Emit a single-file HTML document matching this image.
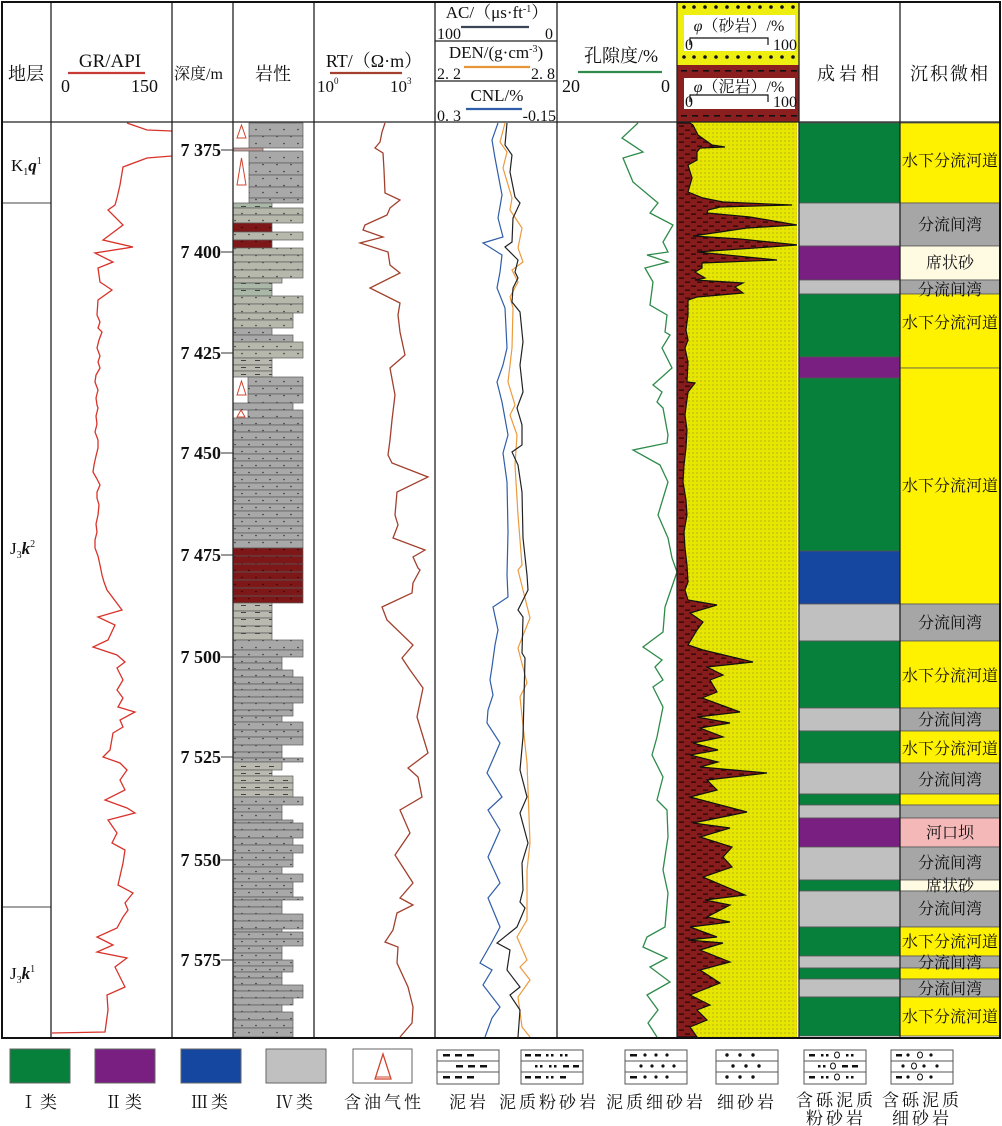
<!DOCTYPE html>
<html><head><meta charset="utf-8"><style>
html,body{margin:0;padding:0;background:#fff;}
svg{display:block;}
text{font-family:"Liberation Serif","Noto Serif CJK SC",serif;fill:#111;}
</style></head><body>
<svg width="1002" height="1126" viewBox="0 0 1002 1126" xmlns="http://www.w3.org/2000/svg">
<defs>
<pattern id="pg" width="14" height="14" patternUnits="userSpaceOnUse"><rect width="14" height="14" fill="#a8a8a8"/><circle cx="4" cy="3.5" r="0.8" fill="#333"/><circle cx="11" cy="10.5" r="0.8" fill="#333"/></pattern>
<pattern id="pl" width="14" height="14" patternUnits="userSpaceOnUse"><rect width="14" height="14" fill="#b6b8ab"/><circle cx="4" cy="3.5" r="0.8" fill="#333"/><circle cx="11" cy="10.5" r="0.8" fill="#333"/></pattern>
<pattern id="pl2" width="14" height="7" patternUnits="userSpaceOnUse"><rect width="14" height="7" fill="#aab8a7"/><rect x="3" y="3" width="5" height="1" fill="#444"/></pattern>
<pattern id="pr" width="14" height="14" patternUnits="userSpaceOnUse"><rect width="14" height="14" fill="#7e1818"/><circle cx="4" cy="3.5" r="0.8" fill="#300"/><circle cx="11" cy="10.5" r="0.8" fill="#300"/></pattern>
<pattern id="pb" width="14" height="7" patternUnits="userSpaceOnUse"><rect width="14" height="7" fill="#b9b9b0"/><rect x="3" y="3" width="5" height="1" fill="#444"/></pattern>
<pattern id="py" width="4" height="4" patternUnits="userSpaceOnUse"><rect width="4" height="4" fill="#e6e600"/><circle cx="1" cy="1" r="0.6" fill="#93932a"/></pattern>
<pattern id="pm" width="12" height="8" patternUnits="userSpaceOnUse"><rect width="12" height="8" fill="#861c1c"/><rect x="1" y="1.5" width="5" height="1.3" fill="#2a0808"/><rect x="7" y="5.5" width="5" height="1.3" fill="#2a0808"/></pattern>
<clipPath id="cgr"><rect x="51" y="122" width="121" height="916"/></clipPath>
<clipPath id="cphi"><rect x="677" y="122" width="120" height="915"/></clipPath>
</defs>

<!-- ========== HEADER ========== -->
<text x="26" y="80" font-size="18" text-anchor="middle">地层</text>
<text x="110" y="67" font-size="19" text-anchor="middle">GR/API</text>
<line x1="68" y1="73" x2="145" y2="73" stroke="#c83a36" stroke-width="2.2"/>
<text x="61" y="92" font-size="18">0</text>
<text x="158" y="92" font-size="18" text-anchor="end">150</text>
<text x="174" y="79" font-size="16">深度/m</text>
<text x="273" y="80" font-size="18" text-anchor="middle">岩性</text>
<text x="374" y="67" font-size="18" text-anchor="middle">RT/（Ω·m）</text>
<line x1="330" y1="73" x2="402" y2="73" stroke="#a3412f" stroke-width="2.2"/>
<text x="317" y="92" font-size="17">10<tspan font-size="9" dy="-8">0</tspan></text>
<text x="390" y="92" font-size="17">10<tspan font-size="9" dy="-8">3</tspan></text>

<!-- AC/DEN/CNL header -->
<text x="497" y="18" font-size="17" text-anchor="middle">AC/（μs·ft<tspan font-size="10" dy="-6">-1</tspan><tspan dy="6">）</tspan></text>
<line x1="461" y1="27" x2="529" y2="27" stroke="#3a4556" stroke-width="2.2"/>
<text x="437" y="39" font-size="16">100</text>
<text x="553" y="39" font-size="16" text-anchor="end">0</text>
<line x1="435" y1="41" x2="557" y2="41" stroke="#222" stroke-width="1.2"/>
<text x="496" y="58" font-size="17" text-anchor="middle">DEN/(g·cm<tspan font-size="10" dy="-6">-3</tspan><tspan dy="6">)</tspan></text>
<line x1="464" y1="67" x2="530" y2="67" stroke="#e8953a" stroke-width="2.2"/>
<text x="437" y="79" font-size="16">2. 2</text>
<text x="555" y="79" font-size="16" text-anchor="end">2. 8</text>
<line x1="435" y1="81" x2="557" y2="81" stroke="#222" stroke-width="1.2"/>
<text x="497" y="101" font-size="17" text-anchor="middle">CNL/%</text>
<line x1="466" y1="109" x2="522" y2="109" stroke="#2f5da8" stroke-width="2.2"/>
<text x="437" y="121" font-size="16">0. 3</text>
<text x="556" y="121" font-size="16" text-anchor="end">-0.15</text>

<text x="621" y="62" font-size="18" text-anchor="middle">孔隙度/%</text>
<line x1="578" y1="72" x2="662" y2="72" stroke="#2e8b4a" stroke-width="2.2"/>
<text x="562" y="92" font-size="18">20</text>
<text x="670" y="92" font-size="18" text-anchor="end">0</text>

<!-- phi header -->
<rect x="677" y="2" width="122" height="63" fill="#eeee10"/>
<g fill="#111">
<circle cx="684" cy="7" r="1.8"/><circle cx="694" cy="7" r="1.8"/><circle cx="705" cy="7" r="1.8"/><circle cx="716" cy="7" r="1.8"/><circle cx="727" cy="7" r="1.8"/><circle cx="738" cy="7" r="1.8"/><circle cx="749" cy="7" r="1.8"/><circle cx="760" cy="7" r="1.8"/><circle cx="771" cy="7" r="1.8"/><circle cx="782" cy="7" r="1.8"/><circle cx="793" cy="7" r="1.8"/>
<circle cx="684" cy="57" r="1.8"/><circle cx="694" cy="57" r="1.8"/><circle cx="705" cy="57" r="1.8"/><circle cx="716" cy="57" r="1.8"/><circle cx="727" cy="57" r="1.8"/><circle cx="738" cy="57" r="1.8"/><circle cx="749" cy="57" r="1.8"/><circle cx="760" cy="57" r="1.8"/><circle cx="771" cy="57" r="1.8"/><circle cx="782" cy="57" r="1.8"/><circle cx="793" cy="57" r="1.8"/>
</g>
<rect x="684" y="15" width="111" height="36" fill="#fff"/>
<text x="739" y="31" font-size="16" text-anchor="middle"><tspan font-style="italic">φ</tspan>（砂岩）/%</text>
<polyline points="690,45 690,38 768,38 768,45" fill="none" stroke="#111" stroke-width="1.2"/>
<text x="685" y="50" font-size="16">0</text>
<text x="797" y="50" font-size="16" text-anchor="end">100</text>
<rect x="677" y="65" width="122" height="57" fill="#8b1e1e"/>
<g fill="#111">
<rect x="681" y="70" width="6" height="1.6"/><rect x="692" y="70" width="6" height="1.6"/><rect x="703" y="70" width="6" height="1.6"/><rect x="714" y="70" width="6" height="1.6"/><rect x="725" y="70" width="6" height="1.6"/><rect x="736" y="70" width="6" height="1.6"/><rect x="747" y="70" width="6" height="1.6"/><rect x="758" y="70" width="6" height="1.6"/><rect x="769" y="70" width="6" height="1.6"/><rect x="780" y="70" width="6" height="1.6"/><rect x="791" y="70" width="6" height="1.6"/>
<rect x="681" y="115" width="6" height="1.6"/><rect x="692" y="115" width="6" height="1.6"/><rect x="703" y="115" width="6" height="1.6"/><rect x="714" y="115" width="6" height="1.6"/><rect x="725" y="115" width="6" height="1.6"/><rect x="736" y="115" width="6" height="1.6"/><rect x="747" y="115" width="6" height="1.6"/><rect x="758" y="115" width="6" height="1.6"/><rect x="769" y="115" width="6" height="1.6"/><rect x="780" y="115" width="6" height="1.6"/><rect x="791" y="115" width="6" height="1.6"/>
</g>
<rect x="684" y="78" width="111" height="31" fill="#fff"/>
<text x="739" y="92" font-size="16" text-anchor="middle"><tspan font-style="italic">φ</tspan>（泥岩）/%</text>
<polyline points="690,102 690,95 768,95 768,102" fill="none" stroke="#111" stroke-width="1.2"/>
<text x="685" y="107" font-size="16">0</text>
<text x="797" y="107" font-size="16" text-anchor="end">100</text>

<text x="850" y="80" font-size="18" text-anchor="middle" letter-spacing="4">成岩相</text>
<text x="950" y="80" font-size="18" text-anchor="middle" letter-spacing="2">沉积微相</text>

<!-- ========== STRATIGRAPHY ========== -->
<line x1="2" y1="203" x2="51" y2="203" stroke="#444" stroke-width="1"/>
<line x1="2" y1="907" x2="51" y2="907" stroke="#444" stroke-width="1"/>
<text x="11" y="171" font-size="17">K<tspan font-size="10" dy="4">1</tspan><tspan font-style="italic" font-weight="bold" dy="-4">q</tspan><tspan font-size="10" dy="-7">1</tspan></text>
<text x="10" y="554" font-size="17">J<tspan font-size="10" dy="4">3</tspan><tspan font-style="italic" font-weight="bold" dy="-4">k</tspan><tspan font-size="10" dy="-7">2</tspan></text>
<text x="10" y="979" font-size="17">J<tspan font-size="10" dy="4">3</tspan><tspan font-style="italic" font-weight="bold" dy="-4">k</tspan><tspan font-size="10" dy="-7">1</tspan></text>

<!-- GR curve -->
<polyline clip-path="url(#cgr)" fill="none" stroke="#d8332b" stroke-width="1.3" points="127,123 147,130 172,131 180,143 172,156 147,158 123,167 120,185 117,198 115,205 108,210 123,225 103,240 133,247 95,253 113,262 98,268 100,282 112,290 98,300 97,315 100,322 98,328 102,332 99,340 97,348 100,356 98,362 100,368 96,375 95,382 98,390 96,398 97,405 98,408 96,416 97,424 95,432 98,440 98,448 96,456 94,465 93,472 97,479 100,485 97,492 97,498 99,505 98,515 96,524 97,532 95,540 95,548 98,556 100,565 102,575 104,582 107,590 122,610 98,617 115,625 108,640 93,647 117,655 125,662 117,668 123,680 117,690 123,698 118,707 135,712 120,720 123,727 113,733 110,750 103,757 120,763 127,770 120,780 125,790 105,800 127,808 135,813 108,820 117,833 112,843 125,850 123,863 118,885 133,893 125,903 128,910 123,917 117,928 97,937 113,945 97,952 127,958 115,967 125,987 107,995 108,1010 105,1032 52,1033"/>

<!-- Depth labels -->
<g font-size="18" font-weight="bold" text-anchor="end">
<text x="221" y="156">7 375</text>
<text x="221" y="258">7 400</text>
<text x="221" y="359">7 425</text>
<text x="221" y="459">7 450</text>
<text x="221" y="561">7 475</text>
<text x="221" y="663">7 500</text>
<text x="221" y="763">7 525</text>
<text x="221" y="866">7 550</text>
<text x="221" y="966">7 575</text>
</g>
<g stroke="#333" stroke-width="1">
<line x1="221" y1="150" x2="233" y2="150"/><line x1="221" y1="252" x2="233" y2="252"/><line x1="221" y1="353" x2="233" y2="353"/><line x1="221" y1="453" x2="233" y2="453"/><line x1="221" y1="555" x2="233" y2="555"/><line x1="221" y1="657" x2="233" y2="657"/><line x1="221" y1="757" x2="233" y2="757"/><line x1="221" y1="860" x2="233" y2="860"/><line x1="221" y1="960" x2="233" y2="960"/>
</g>

<!-- ========== LITHOLOGY ========== -->
<g stroke="#5a5a5a" stroke-width="0.7">
<rect x="249" y="123" width="54" height="13" fill="url(#pg)"/>
<rect x="249" y="136" width="54" height="12" fill="url(#pg)"/>
<rect x="233" y="148" width="30" height="3" fill="#c79a9a"/>
<rect x="249" y="151" width="54" height="12" fill="url(#pg)"/>
<rect x="249" y="163" width="54" height="12" fill="url(#pg)"/>
<rect x="249" y="175" width="54" height="12" fill="url(#pg)"/>
<rect x="249" y="187" width="54" height="11" fill="url(#pg)"/>
<rect x="249" y="198" width="54" height="5" fill="url(#pg)"/>
<rect x="233" y="203" width="39" height="5" fill="url(#pl2)"/>
<rect x="233" y="208" width="70" height="7" fill="url(#pl)"/>
<rect x="233" y="215" width="70" height="8" fill="url(#pl)"/>
<rect x="233" y="223" width="39" height="9" fill="url(#pr)"/>
<rect x="233" y="232" width="70" height="8" fill="url(#pl)"/>
<rect x="233" y="240" width="39" height="8" fill="url(#pr)"/>
<rect x="233" y="248" width="70" height="7" fill="url(#pl)"/>
<rect x="233" y="255" width="70" height="7" fill="url(#pl)"/>
<rect x="233" y="262" width="70" height="8" fill="url(#pl)"/>
<rect x="233" y="270" width="70" height="8" fill="url(#pl)"/>
<rect x="233" y="278" width="49" height="5" fill="url(#pl)"/>
<rect x="233" y="283" width="39" height="6" fill="url(#pl2)"/>
<rect x="233" y="289" width="39" height="7" fill="url(#pl2)"/>
<rect x="233" y="296" width="70" height="8" fill="url(#pl)"/>
<rect x="233" y="304" width="70" height="9" fill="url(#pl)"/>
<rect x="233" y="313" width="60" height="7" fill="url(#pl)"/>
<rect x="233" y="320" width="60" height="8" fill="url(#pl)"/>
<rect x="233" y="328" width="39" height="7" fill="url(#pg)"/>
<rect x="233" y="335" width="60" height="7" fill="url(#pg)"/>
<rect x="233" y="342" width="70" height="8" fill="url(#pl)"/>
<rect x="233" y="350" width="70" height="8" fill="url(#pl)"/>
<rect x="233" y="358" width="39" height="7" fill="url(#pb)"/>
<rect x="233" y="365" width="39" height="6" fill="url(#pb)"/>
<rect x="233" y="371" width="39" height="6" fill="url(#pb)"/>
<rect x="248" y="377" width="55" height="9" fill="url(#pg)"/>
<rect x="248" y="386" width="55" height="8" fill="url(#pg)"/>
<rect x="248" y="394" width="55" height="9" fill="url(#pg)"/>
<rect x="233" y="403" width="60" height="7" fill="url(#pg)"/>
<rect x="248" y="410" width="55" height="8" fill="url(#pg)"/>
<rect x="233" y="418" width="70" height="7" fill="url(#pg)"/>
<rect x="233" y="425" width="70" height="7" fill="url(#pg)"/>
<rect x="233" y="432" width="70" height="8" fill="url(#pg)"/>
<rect x="233" y="440" width="70" height="7" fill="url(#pg)"/>
<rect x="233" y="447" width="70" height="7" fill="url(#pg)"/>
<rect x="233" y="454" width="70" height="7" fill="url(#pg)"/>
<rect x="233" y="461" width="70" height="7" fill="url(#pg)"/>
<rect x="233" y="468" width="70" height="7" fill="url(#pg)"/>
<rect x="233" y="475" width="70" height="8" fill="url(#pg)"/>
<rect x="233" y="483" width="70" height="7" fill="url(#pg)"/>
<rect x="233" y="490" width="70" height="7" fill="url(#pg)"/>
<rect x="233" y="497" width="70" height="7" fill="url(#pg)"/>
<rect x="233" y="504" width="70" height="7" fill="url(#pg)"/>
<rect x="233" y="511" width="70" height="7" fill="url(#pg)"/>
<rect x="233" y="518" width="70" height="8" fill="url(#pg)"/>
<rect x="233" y="526" width="70" height="7" fill="url(#pg)"/>
<rect x="233" y="533" width="70" height="7" fill="url(#pg)"/>
<rect x="233" y="540" width="70" height="8" fill="url(#pg)"/>
<rect x="233" y="548" width="70" height="8" fill="url(#pr)"/>
<rect x="233" y="556" width="70" height="8" fill="url(#pr)"/>
<rect x="233" y="564" width="70" height="8" fill="url(#pr)"/>
<rect x="233" y="572" width="70" height="8" fill="url(#pr)"/>
<rect x="233" y="580" width="70" height="8" fill="url(#pr)"/>
<rect x="233" y="588" width="70" height="8" fill="url(#pr)"/>
<rect x="233" y="596" width="70" height="7" fill="url(#pr)"/>
<rect x="233" y="603" width="39" height="8" fill="url(#pb)"/>
<rect x="233" y="611" width="39" height="7" fill="url(#pb)"/>
<rect x="233" y="618" width="39" height="8" fill="url(#pb)"/>
<rect x="233" y="626" width="39" height="7" fill="url(#pb)"/>
<rect x="233" y="633" width="39" height="7" fill="url(#pb)"/>
<rect x="233" y="640" width="70" height="10" fill="url(#pg)"/>
<rect x="233" y="650" width="70" height="7" fill="url(#pg)"/>
<rect x="233" y="657" width="49" height="6" fill="url(#pg)"/>
<rect x="233" y="663" width="49" height="7" fill="url(#pg)"/>
<rect x="233" y="670" width="60" height="7" fill="url(#pg)"/>
<rect x="233" y="677" width="70" height="7" fill="url(#pg)"/>
<rect x="233" y="684" width="70" height="6" fill="url(#pg)"/>
<rect x="233" y="690" width="70" height="7" fill="url(#pg)"/>
<rect x="233" y="697" width="70" height="6" fill="url(#pg)"/>
<rect x="233" y="703" width="60" height="7" fill="url(#pg)"/>
<rect x="233" y="710" width="60" height="6" fill="url(#pg)"/>
<rect x="233" y="716" width="49" height="6" fill="url(#pg)"/>
<rect x="233" y="722" width="70" height="8" fill="url(#pg)"/>
<rect x="233" y="730" width="70" height="7" fill="url(#pg)"/>
<rect x="233" y="737" width="70" height="8" fill="url(#pg)"/>
<rect x="233" y="745" width="49" height="7" fill="url(#pg)"/>
<rect x="233" y="752" width="49" height="6" fill="url(#pg)"/>
<rect x="233" y="758" width="70" height="4" fill="url(#pg)"/>
<rect x="233" y="762" width="49" height="8" fill="url(#pb)"/>
<rect x="233" y="770" width="39" height="6" fill="url(#pb)"/>
<rect x="233" y="776" width="60" height="7" fill="url(#pb)"/>
<rect x="233" y="783" width="60" height="7" fill="url(#pb)"/>
<rect x="233" y="790" width="60" height="7" fill="url(#pb)"/>
<rect x="233" y="797" width="70" height="8" fill="url(#pg)"/>
<rect x="233" y="805" width="49" height="7" fill="url(#pg)"/>
<rect x="233" y="812" width="49" height="8" fill="url(#pg)"/>
<rect x="233" y="820" width="60" height="3" fill="url(#pg)"/>
<rect x="233" y="823" width="70" height="7" fill="url(#pg)"/>
<rect x="233" y="830" width="70" height="8" fill="url(#pg)"/>
<rect x="233" y="838" width="60" height="7" fill="url(#pg)"/>
<rect x="233" y="845" width="70" height="8" fill="url(#pg)"/>
<rect x="233" y="853" width="60" height="7" fill="url(#pg)"/>
<rect x="233" y="860" width="60" height="7" fill="url(#pg)"/>
<rect x="233" y="867" width="49" height="7" fill="url(#pg)"/>
<rect x="233" y="874" width="70" height="8" fill="url(#pg)"/>
<rect x="233" y="882" width="60" height="7" fill="url(#pg)"/>
<rect x="233" y="889" width="60" height="8" fill="url(#pg)"/>
<rect x="233" y="897" width="70" height="3" fill="url(#pg)"/>
<rect x="233" y="900" width="49" height="7" fill="url(#pg)"/>
<rect x="233" y="907" width="49" height="7" fill="url(#pg)"/>
<rect x="233" y="914" width="70" height="7" fill="url(#pg)"/>
<rect x="233" y="921" width="70" height="8" fill="url(#pg)"/>
<rect x="233" y="929" width="49" height="3" fill="url(#pg)"/>
<rect x="233" y="932" width="70" height="7" fill="url(#pg)"/>
<rect x="233" y="939" width="70" height="7" fill="url(#pg)"/>
<rect x="233" y="946" width="49" height="7" fill="url(#pg)"/>
<rect x="233" y="953" width="49" height="7" fill="url(#pg)"/>
<rect x="233" y="960" width="60" height="6" fill="url(#pg)"/>
<rect x="233" y="966" width="60" height="6" fill="url(#pg)"/>
<rect x="233" y="972" width="49" height="6" fill="url(#pg)"/>
<rect x="233" y="978" width="49" height="7" fill="url(#pg)"/>
<rect x="233" y="985" width="70" height="6" fill="url(#pg)"/>
<rect x="233" y="991" width="70" height="7" fill="url(#pg)"/>
<rect x="233" y="998" width="60" height="7" fill="url(#pg)"/>
<rect x="233" y="1005" width="49" height="7" fill="url(#pg)"/>
<rect x="233" y="1012" width="60" height="8" fill="url(#pg)"/>
<rect x="233" y="1020" width="60" height="8" fill="url(#pg)"/>
<rect x="233" y="1028" width="60" height="9" fill="url(#pg)"/>
</g>
<!-- oil triangles -->
<g fill="#fff" stroke="#d2442e" stroke-width="1">
<polygon points="241.5,125 237,138 246,138"/>
<polygon points="241.5,158 237,185 246,185"/>
<polygon points="241.5,381 237,395 246,395"/>
<polygon points="241,410 237,417 245,417"/>
</g>

<!-- RT curve -->
<polyline fill="none" stroke="#a2402e" stroke-width="1.3" points="385,123 382,132 380,142 375,148 383,153 384,170 385,193 400,200 390,208 387,215 365,225 363,230 383,237 360,243 388,252 390,265 400,273 370,288 400,303 398,315 400,332 405,355 390,368 395,395 392,420 390,440 388,455 392,463 428,477 397,492 395,515 398,525 393,538 425,550 413,557 418,568 420,570 413,583 412,593 382,607 387,620 413,645 402,658 410,670 423,688 417,717 428,753 408,768 418,777 422,797 400,810 410,833 395,855 413,883 400,898 413,905 397,913 393,930 385,942 398,947 397,963 408,987 413,1007 412,1023 400,1037"/>

<!-- AC/DEN/CNL curves -->
<polyline fill="none" stroke="#2f5da8" stroke-width="1.2" points="498,123 492,140 495,158 502,195 498,218 503,237 483,243 502,255 500,272 497,288 505,308 507,348 503,365 497,382 502,402 508,435 503,453 507,482 508,532 507,575 508,597 493,607 498,630 495,645 492,667 490,680 493,695 488,710 487,723 500,743 487,773 502,797 488,810 500,830 488,857 500,883 488,898 500,927 492,942 480,963 492,970 483,985 500,1007 492,1018 485,1037"/>
<polyline fill="none" stroke="#ec9a3e" stroke-width="1.2" points="505,123 500,142 507,152 503,168 512,198 510,210 522,228 518,248 523,262 512,270 518,282 510,297 513,308 512,348 508,382 515,405 510,415 517,435 515,465 518,515 522,565 518,570 530,618 518,648 527,683 520,697 527,763 530,843 527,870 527,920 517,937 527,960 520,967 530,980 518,997 522,1027 530,1037"/>
<polyline fill="none" stroke="#222" stroke-width="1.2" points="507,123 505,145 512,155 510,172 515,197 520,203 513,218 512,242 505,247 518,260 515,272 518,278 513,288 512,302 520,312 523,342 520,365 523,392 517,408 522,425 522,445 512,452 518,465 522,492 523,538 527,575 528,590 518,610 523,617 522,653 525,658 523,737 520,770 527,797 520,813 528,843 522,863 523,890 520,902 525,908 517,927 497,943 510,950 507,970 520,987 510,995 520,1010 518,1037"/>

<!-- Porosity -->
<polyline fill="none" stroke="#2e8b4a" stroke-width="1.3" points="638,123 622,138 643,152 623,158 633,182 658,203 650,213 673,225 663,242 668,252 647,255 668,262 645,268 653,282 650,305 667,315 665,332 670,335 662,348 672,368 653,385 662,392 657,402 663,408 668,435 667,443 633,450 660,465 668,482 658,515 668,538 672,558 677,572 665,607 663,632 643,647 662,660 655,667 663,680 653,687 663,707 657,737 652,755 663,777 657,800 667,810 668,837 663,870 668,893 665,927 647,937 643,947 667,958 650,967 670,982 647,995 658,1010 648,1023 657,1037"/>

<!-- PHI column -->
<g clip-path="url(#cphi)">
<rect x="677" y="122" width="120" height="916" fill="url(#py)"/>
<polygon fill="url(#pm)" stroke="#111" stroke-width="1.2" points="677,123 690,123 693,125 698,135 712,145 725,147 700,148 697,152 697,160 688,165 692,178 688,192 703,198 723,202 792,205 720,207 708,210 707,213 750,217 797,225 747,228 693,236 740,239 798,245 697,252 777,260 702,263 702,268 695,272 705,278 695,280 743,283 735,287 743,293 697,297 688,300 688,315 686,330 688,340 685,348 688,362 687,382 695,383 688,392 685,415 687,430 686,448 684,465 683,482 686,500 687,515 684,532 685,548 687,565 688,582 685,590 688,600 717,605 690,613 703,622 697,630 688,645 703,650 753,662 707,667 723,675 710,680 717,692 702,698 740,712 697,717 730,723 700,728 723,737 693,743 718,750 690,755 718,762 700,767 767,773 707,780 717,790 690,797 747,812 693,823 730,828 700,837 732,847 723,857 732,867 703,877 745,895 705,900 730,905 707,917 730,922 690,927 717,937 688,940 723,943 700,950 730,962 700,970 720,983 690,995 710,1005 697,1010 707,1020 690,1027 697,1037 677,1037"/>
</g>

<!-- 成岩相 -->
<g stroke="#555" stroke-width="0.8">
<rect x="799" y="123" width="101" height="80" fill="#07803c"/>
<rect x="799" y="203" width="101" height="43" fill="#c0c0c0"/>
<rect x="799" y="246" width="101" height="34" fill="#7a1f82"/>
<rect x="799" y="280" width="101" height="14" fill="#c0c0c0"/>
<rect x="799" y="294" width="101" height="63" fill="#07803c"/>
<rect x="799" y="357" width="101" height="21" fill="#7a1f82"/>
<rect x="799" y="378" width="101" height="173" fill="#07803c"/>
<rect x="799" y="551" width="101" height="53" fill="#1546a0"/>
<rect x="799" y="604" width="101" height="37" fill="#c0c0c0"/>
<rect x="799" y="641" width="101" height="67" fill="#07803c"/>
<rect x="799" y="708" width="101" height="23" fill="#c0c0c0"/>
<rect x="799" y="731" width="101" height="32" fill="#07803c"/>
<rect x="799" y="763" width="101" height="31" fill="#c0c0c0"/>
<rect x="799" y="794" width="101" height="11" fill="#07803c"/>
<rect x="799" y="805" width="101" height="13" fill="#c0c0c0"/>
<rect x="799" y="818" width="101" height="29" fill="#7a1f82"/>
<rect x="799" y="847" width="101" height="33" fill="#c0c0c0"/>
<rect x="799" y="880" width="101" height="11" fill="#07803c"/>
<rect x="799" y="891" width="101" height="36" fill="#c0c0c0"/>
<rect x="799" y="927" width="101" height="29" fill="#07803c"/>
<rect x="799" y="956" width="101" height="12" fill="#c0c0c0"/>
<rect x="799" y="968" width="101" height="11" fill="#07803c"/>
<rect x="799" y="979" width="101" height="18" fill="#c0c0c0"/>
<rect x="799" y="997" width="101" height="39" fill="#07803c"/>
</g>

<!-- 沉积微相 -->
<g stroke="#555" stroke-width="0.8">
<rect x="900" y="123" width="100" height="80" fill="#fff200"/>
<rect x="900" y="203" width="100" height="43" fill="#a6a6a6"/>
<rect x="900" y="246" width="100" height="34" fill="#fffbe3"/>
<rect x="900" y="280" width="100" height="14" fill="#a6a6a6"/>
<rect x="900" y="294" width="100" height="74" fill="#fff200"/>
<rect x="900" y="368" width="100" height="236" fill="#fff200"/>
<rect x="900" y="604" width="100" height="37" fill="#a6a6a6"/>
<rect x="900" y="641" width="100" height="67" fill="#fff200"/>
<rect x="900" y="708" width="100" height="23" fill="#a6a6a6"/>
<rect x="900" y="731" width="100" height="32" fill="#fff200"/>
<rect x="900" y="763" width="100" height="31" fill="#a6a6a6"/>
<rect x="900" y="794" width="100" height="11" fill="#fff200"/>
<rect x="900" y="805" width="100" height="13" fill="#a6a6a6"/>
<rect x="900" y="818" width="100" height="29" fill="#f5b8b8"/>
<rect x="900" y="847" width="100" height="33" fill="#a6a6a6"/>
<rect x="900" y="880" width="100" height="11" fill="#fffbe3"/>
<rect x="900" y="891" width="100" height="36" fill="#a6a6a6"/>
<rect x="900" y="927" width="100" height="29" fill="#fff200"/>
<rect x="900" y="956" width="100" height="12" fill="#a6a6a6"/>
<rect x="900" y="968" width="100" height="11" fill="#fff200"/>
<rect x="900" y="979" width="100" height="18" fill="#a6a6a6"/>
<rect x="900" y="997" width="100" height="39" fill="#fff200"/>
</g>
<g font-size="16" text-anchor="middle" fill="#1a1a1a">
<text x="950" y="166">水下分流河道</text>
<text x="950" y="230">分流间湾</text>
<text x="950" y="268">席状砂</text>
<text x="950" y="295">分流间湾</text>
<text x="950" y="328">水下分流河道</text>
<text x="950" y="491">水下分流河道</text>
<text x="950" y="628">分流间湾</text>
<text x="950" y="681">水下分流河道</text>
<text x="950" y="725">分流间湾</text>
<text x="950" y="754">水下分流河道</text>
<text x="950" y="785">分流间湾</text>
<text x="950" y="838">河口坝</text>
<text x="950" y="868">分流间湾</text>
<text x="950" y="891">席状砂</text>
<text x="950" y="914">分流间湾</text>
<text x="950" y="947">水下分流河道</text>
<text x="950" y="968">分流间湾</text>
<text x="950" y="994">分流间湾</text>
<text x="950" y="1022">水下分流河道</text>
</g>

<!-- ========== GRID ========== -->
<g stroke="#222" stroke-width="1.3">
<line x1="51" y1="2" x2="51" y2="1038"/>
<line x1="172" y1="2" x2="172" y2="1038"/>
<line x1="233" y1="2" x2="233" y2="1038"/>
<line x1="314" y1="2" x2="314" y2="1038"/>
<line x1="435" y1="2" x2="435" y2="1038"/>
<line x1="557" y1="2" x2="557" y2="1038"/>
<line x1="677" y1="2" x2="677" y2="1038"/>
<line x1="799" y1="2" x2="799" y2="1038"/>
<line x1="900" y1="2" x2="900" y2="1038"/>
<line x1="2" y1="122" x2="1000" y2="122"/>
</g>
<rect x="2" y="2" width="998" height="1036" fill="none" stroke="#111" stroke-width="2"/>

<!-- ========== LEGEND ========== -->
<g stroke="#666" stroke-width="1">
<rect x="10" y="1049" width="60" height="34" fill="#07803c"/>
<rect x="95" y="1049" width="60" height="34" fill="#7a1f82"/>
<rect x="181" y="1049" width="60" height="34" fill="#1546a0"/>
<rect x="266" y="1049" width="60" height="34" fill="#c0c0c0"/>
<rect x="353" y="1049" width="59" height="34" fill="#fff"/>
</g>
<polygon points="383,1054 375,1079 391,1079" fill="#fff" stroke="#d2442e" stroke-width="1.3"/>
<line x1="376" y1="1077" x2="390" y2="1077" stroke="#d2442e" stroke-width="1"/>

<g fill="#fff" stroke="#555" stroke-width="1">
<rect x="437" y="1050" width="62" height="34"/><line x1="437" y1="1061" x2="499" y2="1061"/><line x1="437" y1="1072" x2="499" y2="1072"/>
<rect x="521" y="1050" width="62" height="34"/><line x1="521" y1="1061" x2="583" y2="1061"/><line x1="521" y1="1072" x2="583" y2="1072"/>
<rect x="625" y="1050" width="62" height="34"/><line x1="625" y1="1061" x2="687" y2="1061"/><line x1="625" y1="1072" x2="687" y2="1072"/>
<rect x="716" y="1050" width="62" height="34"/><line x1="716" y1="1061" x2="778" y2="1061"/><line x1="716" y1="1072" x2="778" y2="1072"/>
<rect x="804" y="1050" width="62" height="34"/><line x1="804" y1="1061" x2="866" y2="1061"/><line x1="804" y1="1072" x2="866" y2="1072"/>
<rect x="891" y="1050" width="62" height="34"/><line x1="891" y1="1061" x2="953" y2="1061"/><line x1="891" y1="1072" x2="953" y2="1072"/>
</g>
<g fill="#111">
<rect x="443" y="1054" width="7" height="2.5"/><rect x="455" y="1054" width="7" height="2.5"/><rect x="467" y="1054" width="7" height="2.5"/>
<rect x="456" y="1065" width="7" height="2.5"/><rect x="468" y="1065" width="7" height="2.5"/><rect x="480" y="1065" width="7" height="2.5"/>
<rect x="443" y="1076" width="7" height="2.5"/><rect x="455" y="1076" width="7" height="2.5"/><rect x="467" y="1076" width="7" height="2.5"/>
<rect x="525" y="1054" width="6" height="2.5"/><rect x="535" y="1054" width="6" height="2.5"/><rect x="546" y="1054" width="2.5" height="2.5"/><rect x="551" y="1054" width="2.5" height="2.5"/><rect x="560" y="1054" width="2.5" height="2.5"/><rect x="565" y="1054" width="2.5" height="2.5"/>
<rect x="535" y="1065" width="2.5" height="2.5"/><rect x="540" y="1065" width="2.5" height="2.5"/><rect x="549" y="1065" width="2.5" height="2.5"/><rect x="554" y="1065" width="2.5" height="2.5"/><rect x="563" y="1065" width="6" height="2.5"/><rect x="573" y="1065" width="6" height="2.5"/>
<rect x="525" y="1076" width="6" height="2.5"/><rect x="535" y="1076" width="6" height="2.5"/><rect x="546" y="1076" width="2.5" height="2.5"/><rect x="551" y="1076" width="2.5" height="2.5"/><rect x="560" y="1076" width="6" height="2.5"/>
<rect x="630" y="1054" width="7" height="2.5"/><circle cx="645" cy="1055" r="1.6"/><circle cx="656" cy="1055" r="1.6"/><circle cx="667" cy="1055" r="1.6"/>
<circle cx="641" cy="1066" r="1.6"/><circle cx="652" cy="1066" r="1.6"/><circle cx="663" cy="1066" r="1.6"/><circle cx="674" cy="1066" r="1.6"/>
<rect x="630" y="1076" width="7" height="2.5"/><circle cx="645" cy="1077" r="1.6"/><circle cx="656" cy="1077" r="1.6"/><circle cx="667" cy="1077" r="1.6"/>
<circle cx="727" cy="1055" r="1.7"/><circle cx="740" cy="1055" r="1.7"/><circle cx="753" cy="1055" r="1.7"/>
<circle cx="733" cy="1066" r="1.7"/><circle cx="746" cy="1066" r="1.7"/><circle cx="759" cy="1066" r="1.7"/>
<circle cx="727" cy="1077" r="1.7"/><circle cx="740" cy="1077" r="1.7"/><circle cx="753" cy="1077" r="1.7"/>
<rect x="809" y="1054" width="6" height="2.5"/><rect x="821" y="1054" width="2.5" height="2.5"/><rect x="826" y="1054" width="2.5" height="2.5"/><rect x="846" y="1054" width="2.5" height="2.5"/><rect x="851" y="1054" width="2.5" height="2.5"/>
<rect x="818" y="1065" width="2.5" height="2.5"/><rect x="823" y="1065" width="2.5" height="2.5"/><rect x="842" y="1065" width="6" height="2.5"/><rect x="852" y="1065" width="6" height="2.5"/>
<rect x="809" y="1076" width="6" height="2.5"/><rect x="821" y="1076" width="2.5" height="2.5"/><rect x="826" y="1076" width="2.5" height="2.5"/><rect x="846" y="1076" width="2.5" height="2.5"/><rect x="851" y="1076" width="2.5" height="2.5"/>
<rect x="896" y="1054" width="6" height="2.5"/><circle cx="908" cy="1055" r="1.6"/><circle cx="931" cy="1055" r="1.6"/>
<circle cx="903" cy="1066" r="1.6"/><circle cx="924" cy="1066" r="1.6"/><circle cx="937" cy="1066" r="1.6"/>
<rect x="896" y="1076" width="6" height="2.5"/><circle cx="908" cy="1077" r="1.6"/><circle cx="931" cy="1077" r="1.6"/>
</g>
<g fill="none" stroke="#111" stroke-width="1">
<ellipse cx="837" cy="1055" rx="2.5" ry="3"/><ellipse cx="833" cy="1066" rx="2.5" ry="3"/><ellipse cx="837" cy="1077" rx="2.5" ry="3"/>
<ellipse cx="920" cy="1055" rx="2.5" ry="3"/><ellipse cx="914" cy="1066" rx="2.5" ry="3"/><ellipse cx="920" cy="1077" rx="2.5" ry="3"/>
</g>

<g font-size="17" text-anchor="middle" letter-spacing="3">
<text x="40" y="1108">Ⅰ类</text>
<text x="125" y="1108">Ⅱ类</text>
<text x="211" y="1108">Ⅲ类</text>
<text x="296" y="1108">Ⅳ类</text>
<text x="384" y="1108">含油气性</text>
<text x="469" y="1108">泥岩</text>
<text x="549" y="1108">泥质粉砂岩</text>
<text x="656" y="1108">泥质细砂岩</text>
<text x="747" y="1108">细砂岩</text>
<text x="836" y="1106">含砾泥质</text>
<text x="836" y="1124">粉砂岩</text>
<text x="922" y="1106">含砾泥质</text>
<text x="922" y="1124">细砂岩</text>
</g>
</svg>
</body></html>
